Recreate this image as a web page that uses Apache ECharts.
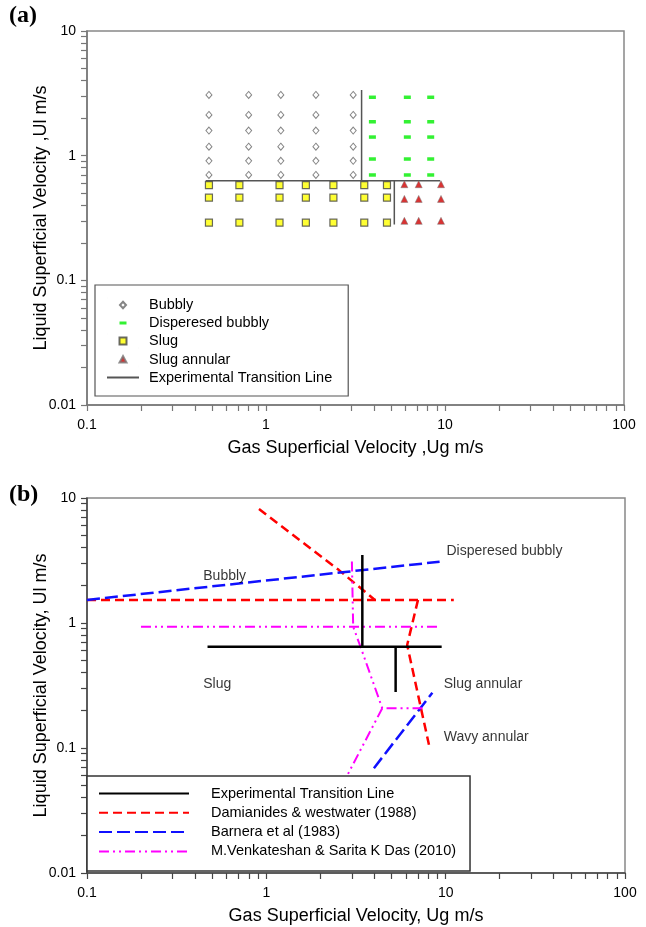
<!DOCTYPE html>
<html>
<head>
<meta charset="utf-8">
<title>Flow pattern map</title>
<script src="https://cdn.jsdelivr.net/npm/echarts@6/dist/echarts.min.js"></script>
<style>
  html, body { margin: 0; padding: 0; background: #fff; }
  #myChart { width: 646px; height: 927px; }
</style>
</head>
<body>
<div id="myChart"></div>
<script>
// ---- (a) experimental points (Ug, Ul in m/s)
var bubblyUg = [0.48, 0.8, 1.21, 1.9, 3.07];
var bubblyUl = [0.7, 0.91, 1.18, 1.59, 2.12, 3.07];
var dispUg = [3.93, 6.16, 8.32];
var dispUl = [0.7, 0.94, 1.41, 1.87, 2.94];
var slugUg = [0.48, 0.71, 1.19, 1.67, 2.38, 3.54, 4.74];
var slugUl = [0.29, 0.46, 0.58];
var annUg = [5.93, 7.13, 9.5];
var annUl = [0.3, 0.45, 0.59];

// transition lines of panel (a), one list of points per segment
var expLinesA = [
  [[0.46, 0.63], [9.4, 0.63]],
  [[3.42, 3.36], [3.42, 0.63]],
  [[5.21, 0.63], [5.21, 0.28]]
];

// ---- (b) transition lines
var expLinesB = [
  [[0.47, 0.646], [9.5, 0.646]],
  [[3.43, 3.5], [3.43, 0.646]],
  [[5.26, 0.646], [5.26, 0.28]]
];
var damianides = [
  [[0.1, 1.53], [11.1, 1.53]],
  [[0.91, 8.17], [2.54, 2.65], [4.03, 1.53]],
  [[7.01, 1.53], [6.1, 0.667], [8.07, 0.106]]
];
var barnea = [
  [[0.1, 1.53], [9.25, 3.09]],
  [[3.98, 0.069], [8.43, 0.277]]
];
var venkat = [
  [[0.2, 0.933], [9.25, 0.933]],
  [[3.0, 3.1], [3.05, 0.933], [3.35, 0.646], [4.43, 0.208], [7.73, 0.208]],
  [[4.43, 0.208], [2.82, 0.06]]
];

// region names written inside panel (b)
var regionNames = ['Bubbly', 'Disperesed bubbly', 'Slug', 'Slug annular', 'Wavy annular'];
var regionUg = [0.445, 10.1, 0.445, 9.75, 9.75];
var regionUl = [2.38, 3.77, 0.325, 0.325, 0.1225];

var xTickLabels = [0.1, 1, 10, 100];
var yTickLabels = [0.01, 0.1, 1, 10];

var font = "'Liberation Sans', Arial, sans-serif";
var serif = "'Liberation Serif', 'Times New Roman', serif";

function cross(xs, ys) {
  var out = [];
  ys.forEach(function (y) {
    xs.forEach(function (x) { out.push([x, y]); });
  });
  return out;
}

// tick marks 1..9 in every decade
function logTicks(lo, hi) {
  var out = [];
  for (var d = lo; d < hi * 0.999; d *= 10) {
    for (var k = 1; k <= 9; k++) out.push(+(d * k).toPrecision(3));
  }
  out.push(hi);
  return out;
}

function fmt(v) { return String(parseFloat((+v).toPrecision(4))); }

function xAxisFor(gi, name, color) {
  return {
    type: 'log', logBase: 10, gridIndex: gi, min: 0.1, max: 100,
    name: name, nameLocation: 'middle', nameGap: 34,
    nameTextStyle: { fontSize: 18, color: '#000', fontFamily: font },
    axisLine: { lineStyle: { color: color, width: 1.5 } },
    axisTick: { show: true, inside: false, length: 6, customValues: logTicks(0.1, 100),
      lineStyle: { color: color, width: 1.2 } },
    axisLabel: { customValues: xTickLabels, margin: 13, fontSize: 14, color: '#000',
      fontFamily: font, formatter: fmt },
    splitLine: { show: false }
  };
}

function yAxisFor(gi, name, color) {
  return {
    type: 'log', logBase: 10, gridIndex: gi, min: 0.01, max: 10,
    name: name, nameLocation: 'middle', nameGap: 37, nameMoveOverlap: false,
    nameTextStyle: { fontSize: 18, color: '#000', fontFamily: font },
    axisLine: { lineStyle: { color: color, width: 1.5 } },
    axisTick: { show: true, inside: false, length: 6, customValues: logTicks(0.01, 10),
      lineStyle: { color: color, width: 1.2 } },
    axisLabel: { customValues: yTickLabels, margin: 11, fontSize: 14, color: '#000',
      fontFamily: font, formatter: fmt },
    splitLine: { show: false }
  };
}

function segSeries(name, segs, gi, lineStyle, z) {
  return segs.map(function (seg) {
    return {
      name: name, type: 'line', xAxisIndex: gi, yAxisIndex: gi,
      data: seg, symbol: 'none', lineStyle: lineStyle, silent: true, z: z || 2
    };
  });
}

// legend icon paths, 32x14 box with the shape in the middle
var box = 'M0,0L0.01,0M32,14L31.99,14';
var icons = {
  diamond: 'path://' + box + 'M16,3.8L19,7L16,10.2L13,7Z',
  dash: 'path://' + box + 'M12.5,5.5L19.5,5.5L19.5,8.5L12.5,8.5Z',
  square: 'path://' + box + 'M12.5,3.5L19.5,3.5L19.5,10.5L12.5,10.5Z',
  triangle: 'path://' + box + 'M16,3.5L19.5,10L12.5,10Z'
};

var myChart = echarts.init(document.getElementById('myChart'));

var series = [
  { name: 'Bubbly', type: 'scatter', xAxisIndex: 0, yAxisIndex: 0,
    data: cross(bubblyUg, bubblyUl), symbol: 'diamond', symbolSize: [6, 7],
    itemStyle: { color: '#fff', borderColor: '#666', borderWidth: 1 } },
  { name: 'Disperesed bubbly', type: 'scatter', xAxisIndex: 0, yAxisIndex: 0,
    data: cross(dispUg, dispUl), symbol: 'rect', symbolSize: [7, 3.5],
    itemStyle: { color: '#00ee00' } },
  { name: 'Slug', type: 'scatter', xAxisIndex: 0, yAxisIndex: 0,
    data: cross(slugUg, slugUl), symbol: 'rect', symbolSize: 7,
    itemStyle: { color: '#ffff00', borderColor: '#444', borderWidth: 1.2 } },
  { name: 'Slug annular', type: 'scatter', xAxisIndex: 0, yAxisIndex: 0,
    data: cross(annUg, annUl), symbol: 'triangle', symbolSize: 7,
    itemStyle: { color: '#d00000', borderColor: '#777', borderWidth: 0.6 } }
];

series = series
  .concat(segSeries('Experimental Transition Line', expLinesA, 0, { color: '#555', width: 1.5 }, 1))
  .concat(segSeries('Damianides & westwater (1988)', damianides, 1,
    { color: '#ff0000', width: 2.5, type: [9, 5] }))
  .concat(segSeries('Barnera et al (1983)', barnea, 1,
    { color: '#1010ff', width: 2.5, type: [13, 5] }))
  .concat(segSeries('M.Venkateshan & Sarita K Das (2010)', venkat, 1,
    { color: '#ff00ff', width: 2, type: [10, 4, 2, 4, 2, 4] }))
  .concat(segSeries('Experimental Transition Line ', expLinesB, 1,
    { color: '#000', width: 2.5 }, 3));

series.push({
  type: 'scatter', xAxisIndex: 1, yAxisIndex: 1, symbolSize: 0, silent: true,
  data: regionNames.map(function (n, i) { return { name: n, value: [regionUg[i], regionUl[i]] }; }),
  label: { show: true, position: 'right', distance: 0, formatter: '{b}',
    fontSize: 14, color: '#000', fontFamily: font }
});

myChart.setOption({
  animation: false,
  backgroundColor: '#fff',
  title: [
    { text: '(a)', left: 9, top: 4, padding: 0,
      textStyle: { fontFamily: serif, fontWeight: 'bold', fontSize: 24, color: '#000' } },
    { text: '(b)', left: 9, top: 483, padding: 0,
      textStyle: { fontFamily: serif, fontWeight: 'bold', fontSize: 24, color: '#000' } }
  ],
  grid: [
    { left: 87, top: 31, width: 537, height: 374, show: true, borderColor: '#888', borderWidth: 1.5 },
    { left: 87, top: 498, width: 538, height: 375, show: true, borderColor: '#888', borderWidth: 1.5 }
  ],
  xAxis: [
    xAxisFor(0, 'Gas Superficial Velocity ,Ug m/s', '#777'),
    xAxisFor(1, 'Gas Superficial Velocity, Ug m/s', '#444')
  ],
  yAxis: [
    yAxisFor(0, 'Liquid Superficial Velocity ,Ul m/s', '#777'),
    yAxisFor(1, 'Liquid Superficial Velocity, Ul m/s', '#444')
  ],
  legend: [
    {
      orient: 'vertical', left: 95, top: 285, padding: [12, 16, 11, 11],
      itemWidth: 32, itemHeight: 14, itemGap: 2.5, selectedMode: false,
      borderColor: '#555', borderWidth: 1.2, backgroundColor: '#fff',
      textStyle: { fontSize: 14.5, color: '#000', fontFamily: font, padding: [0, 0, 0, 5] },
      data: [
        { name: 'Bubbly', icon: icons.diamond },
        { name: 'Disperesed bubbly', icon: icons.dash },
        { name: 'Slug', icon: icons.square },
        { name: 'Slug annular', icon: icons.triangle },
        { name: 'Experimental Transition Line', itemStyle: { opacity: 0 } }
      ]
    },
    {
      orient: 'vertical', left: 87, top: 776, padding: [10, 14, 12, 11],
      itemWidth: 90, itemHeight: 14, itemGap: 4.3, selectedMode: false,
      borderColor: '#333', borderWidth: 1.5, backgroundColor: '#fff',
      itemStyle: { opacity: 0 },
      textStyle: { fontSize: 14.5, color: '#000', fontFamily: font, padding: [0, 0, 0, 17] },
      data: ['Experimental Transition Line ', 'Damianides & westwater (1988)',
        'Barnera et al (1983)', 'M.Venkateshan & Sarita K Das (2010)']
    }
  ],
  series: series
});
</script>
</body>
</html>
